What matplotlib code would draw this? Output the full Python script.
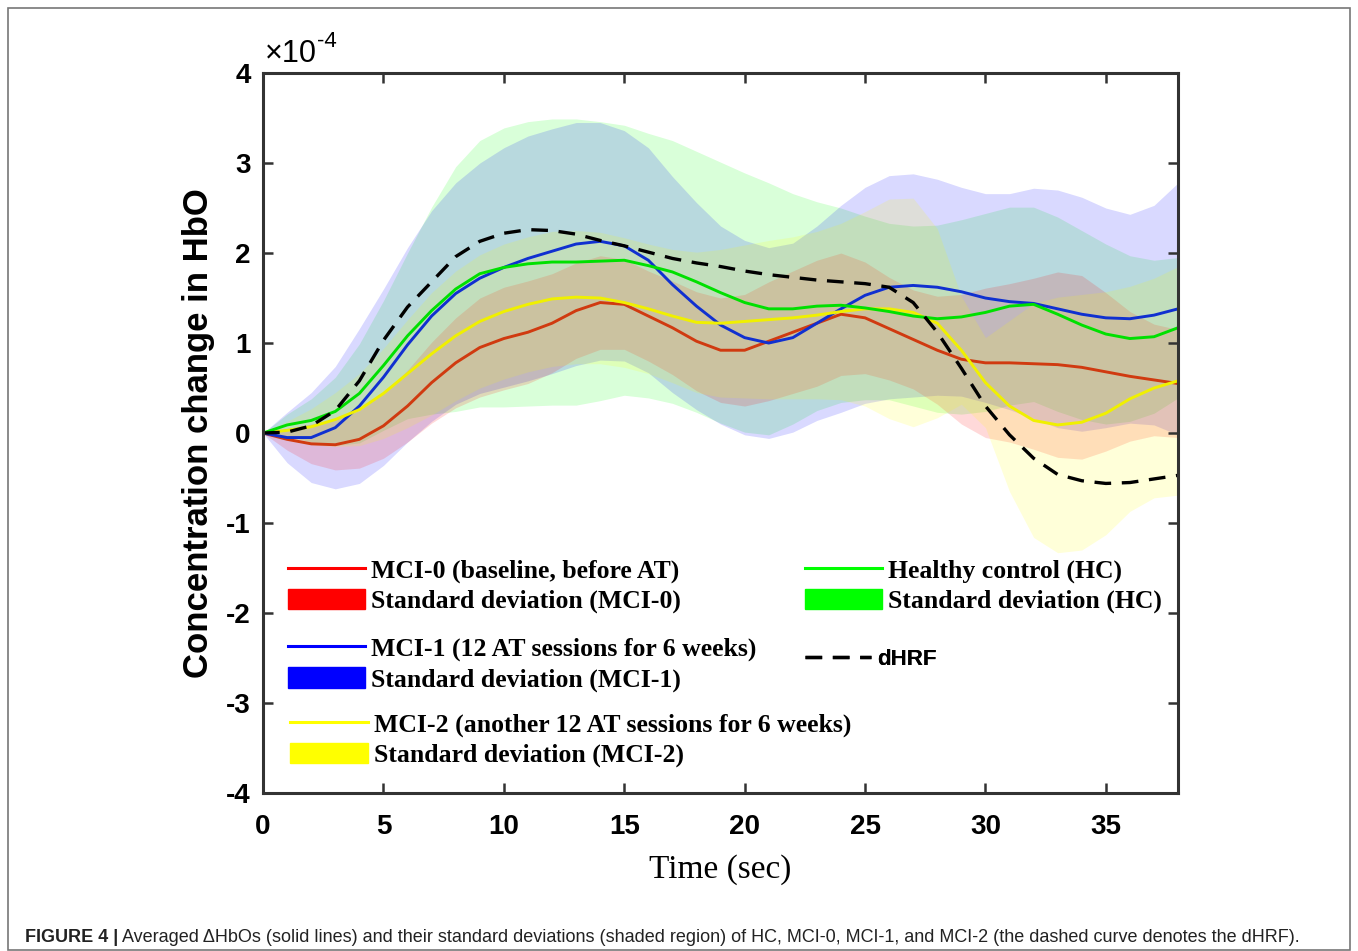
import numpy as np
import matplotlib
matplotlib.use('Agg')
import matplotlib.pyplot as plt
from matplotlib.lines import Line2D
from matplotlib.patches import Patch, Rectangle

plt.rcParams['axes.unicode_minus'] = False

# values, in units of 1e-4
SCALE = 1e-4
time_sec = [0, 1, 2, 3, 4, 5, 6, 7, 8, 9, 10, 11, 12, 13, 14, 15, 16, 17, 18, 19,
            20, 21, 22, 23, 24, 25, 26, 27, 28, 29, 30, 31, 32, 33, 34, 35, 36, 37, 38]

hc_mean = [0, 0.09, 0.14, 0.24, 0.44, 0.75, 1.08, 1.36, 1.60, 1.77, 1.84, 1.88, 1.90, 1.90,
           1.91, 1.92, 1.86, 1.79, 1.68, 1.56, 1.45, 1.38, 1.38, 1.41, 1.42, 1.39, 1.35, 1.30,
           1.27, 1.29, 1.34, 1.41, 1.43, 1.32, 1.20, 1.10, 1.05, 1.07, 1.17]
hc_sd = [0, 0.12, 0.24, 0.38, 0.55, 0.72, 0.92, 1.15, 1.36, 1.48, 1.55, 1.58, 1.59, 1.59,
         1.55, 1.50, 1.47, 1.46, 1.45, 1.45, 1.44, 1.40, 1.28, 1.16, 1.08, 1.02, 0.98, 1.00,
         1.04, 1.08, 1.10, 1.10, 1.08, 1.08, 1.05, 1.00, 0.92, 0.85, 0.78]

mci0_mean = [0, -0.07, -0.12, -0.13, -0.07, 0.08, 0.30, 0.56, 0.78, 0.95, 1.05, 1.12, 1.22, 1.36,
             1.45, 1.43, 1.30, 1.17, 1.02, 0.92, 0.92, 1.02, 1.12, 1.22, 1.32, 1.28, 1.16, 1.04,
             0.92, 0.82, 0.78, 0.78, 0.77, 0.76, 0.73, 0.68, 0.63, 0.59, 0.55]
mci0_sd = [0, 0.12, 0.22, 0.28, 0.32, 0.36, 0.40, 0.45, 0.50, 0.55, 0.57, 0.57, 0.55, 0.53,
           0.52, 0.50, 0.50, 0.52, 0.55, 0.58, 0.62, 0.66, 0.68, 0.70, 0.68, 0.62, 0.57, 0.55,
           0.60, 0.72, 0.83, 0.88, 0.95, 1.03, 1.02, 0.88, 0.72, 0.62, 0.60]

mci1_mean = [0, -0.05, -0.05, 0.06, 0.30, 0.62, 0.98, 1.30, 1.55, 1.72, 1.84, 1.94, 2.02, 2.10,
             2.13, 2.08, 1.92, 1.65, 1.41, 1.20, 1.06, 1.00, 1.06, 1.22, 1.38, 1.53, 1.62, 1.64,
             1.62, 1.57, 1.50, 1.46, 1.44, 1.38, 1.32, 1.28, 1.27, 1.31, 1.38]
mci1_sd = [0, 0.28, 0.50, 0.68, 0.86, 0.98, 1.08, 1.17, 1.23, 1.28, 1.33, 1.36, 1.36, 1.35,
           1.32, 1.28, 1.25, 1.20, 1.15, 1.10, 1.08, 1.06, 1.05, 1.08, 1.15, 1.20, 1.24, 1.24,
           1.20, 1.16, 1.16, 1.20, 1.28, 1.32, 1.30, 1.22, 1.16, 1.22, 1.40]

mci2_mean = [0, 0.03, 0.07, 0.15, 0.26, 0.44, 0.66, 0.88, 1.08, 1.24, 1.35, 1.43, 1.49, 1.51,
             1.50, 1.45, 1.38, 1.30, 1.23, 1.22, 1.24, 1.26, 1.28, 1.31, 1.35, 1.38, 1.38, 1.34,
             1.22, 0.92, 0.56, 0.30, 0.14, 0.09, 0.12, 0.22, 0.38, 0.50, 0.58]
mci2_sd = [0, 0.10, 0.20, 0.30, 0.40, 0.50, 0.60, 0.68, 0.72, 0.74, 0.75, 0.75, 0.75, 0.74,
           0.73, 0.72, 0.72, 0.74, 0.78, 0.82, 0.85, 0.88, 0.90, 0.93, 0.98, 1.08, 1.22, 1.27,
           1.05, 0.60, 0.50, 0.95, 1.30, 1.42, 1.42, 1.35, 1.25, 1.22, 1.27]

dhrf = [0, 0.01, 0.08, 0.25, 0.58, 1.03, 1.40, 1.68, 1.96, 2.13, 2.22, 2.26, 2.25, 2.21,
        2.14, 2.08, 2.01, 1.94, 1.89, 1.85, 1.80, 1.76, 1.73, 1.70, 1.68, 1.66, 1.62, 1.45,
        1.12, 0.72, 0.30, -0.02, -0.28, -0.46, -0.53, -0.56, -0.55, -0.51, -0.47]

x_ticks = [0, 5, 10, 15, 20, 25, 30, 35]
y_ticks = [-4, -3, -2, -1, 0, 1, 2, 3, 4]

t = np.array(time_sec)
groups = [
    # mean, sd, band colour, line colour
    (hc_mean, hc_sd, '#00ff00', '#00e000'),
    (mci1_mean, mci1_sd, '#0000ff', '#1030d0'),
    (mci0_mean, mci0_sd, '#ff0000', '#d03a10'),
    (mci2_mean, mci2_sd, '#ffff00', '#f0f000'),
]

fig = plt.figure(figsize=(13.58, 9.51), dpi=100)
ax = fig.add_axes([0.1937, 0.1661, 0.6738, 0.7571])

for mean, sd, band_col, _ in groups:
    m = np.array(mean) * SCALE
    s = np.array(sd) * SCALE
    ax.fill_between(t, m - s, m + s, color=band_col, alpha=0.15, lw=0)

for mean, sd, _, line_col in [groups[2], groups[1], groups[3], groups[0]]:
    ax.plot(t, np.array(mean) * SCALE, color=line_col, lw=2.1)

ax.plot(t, np.array(dhrf) * SCALE, color='black', lw=2.4, dashes=(5, 3.2))

ax.set_xlim(0, 38)
ax.set_ylim(-4 * SCALE, 4 * SCALE)
ax.set_xticks(x_ticks)
ax.set_xticklabels([str(v) for v in x_ticks])
ax.set_yticks([v * SCALE for v in y_ticks])
ax.set_yticklabels([str(v) for v in y_ticks])

for sp in ax.spines.values():
    sp.set_linewidth(2.2)
    sp.set_color('#333333')
ax.tick_params(direction='in', length=7, width=1.8, color='#333333',
               top=True, right=True, labelsize=20)
ax.tick_params(axis='x', pad=15)
ax.tick_params(axis='y', pad=9)
for lab in ax.get_xticklabels() + ax.get_yticklabels():
    lab.set_family('Liberation Sans')
    lab.set_fontweight('bold')

# exponent label above the y axis
exp_txt = ax.text(0.002, 1.006, '\u00d710', transform=ax.transAxes, fontsize=22,
                  family='Liberation Sans', va='bottom', ha='left')
ax.annotate('-4', xy=(1, 0.55), xycoords=exp_txt, va='bottom', ha='left',
            fontsize=16, family='Liberation Sans')

ax.set_ylabel('Concentration change in HbO', family='Liberation Sans',
              fontweight='bold', fontsize=25, labelpad=8)
ax.set_xlabel('Time (sec)', family='Liberation Serif', fontsize=24, labelpad=10)

# legends, built as separate blocks like the original
serif_b = {'family': 'Liberation Serif', 'weight': 'bold', 'size': 18.5}
sans_b = {'family': 'Liberation Sans', 'weight': 'bold', 'size': 16}


def legend_block(handles, labels, x, y, prop):
    leg = ax.legend(handles, labels, loc='upper left', bbox_to_anchor=(x, y),
                    frameon=False, borderpad=0, borderaxespad=0,
                    handlelength=3.0, handletextpad=0.25, handleheight=0.85,
                    labelspacing=0.22, prop=prop)
    ax.add_artist(leg)


legend_block([Line2D([], [], color='#ff0000', lw=2.2), Patch(color='#ff0000')],
             ['MCI-0 (baseline, before AT)', 'Standard deviation (MCI-0)'],
             0.027, 0.326, serif_b)
legend_block([Line2D([], [], color='#0000ff', lw=2.2), Patch(color='#0000ff')],
             ['MCI-1 (12 AT sessions for 6 weeks)', 'Standard deviation (MCI-1)'],
             0.027, 0.217, serif_b)
legend_block([Line2D([], [], color='#ffff00', lw=2.2), Patch(color='#ffff00')],
             ['MCI-2 (another 12 AT sessions for 6 weeks)', 'Standard deviation (MCI-2)'],
             0.030, 0.112, serif_b)
legend_block([Line2D([], [], color='#00ff00', lw=2.2), Patch(color='#00ff00')],
             ['Healthy control (HC)', 'Standard deviation (HC)'],
             0.592, 0.326, serif_b)
legend_block([Line2D([], [], color='black', lw=2.4, dashes=(5, 3.2))],
             ['dHRF'], 0.592, 0.201, sans_b)

# caption and frame
cap = fig.text(25 / 1358, 1 - 938 / 951, 'FIGURE 4 |', family='Liberation Sans',
               fontweight='bold', fontsize=13, va='center', color='#222222')
ax.annotate(' Averaged \u0394HbOs (solid lines) and their standard deviations (shaded region) '
            'of HC, MCI-0, MCI-1, and MCI-2 (the dashed curve denotes the dHRF).',
            xy=(1, 0.5), xycoords=cap, va='center', ha='left',
            family='Liberation Sans', fontsize=13, color='#222222', annotation_clip=False)
fig.patches.append(Rectangle((8 / 1358, 1 / 951), 1342 / 1358, 942 / 951,
                             transform=fig.transFigure, fill=False,
                             edgecolor='#777777', lw=1.2))

fig.savefig('out.png', dpi=100)
